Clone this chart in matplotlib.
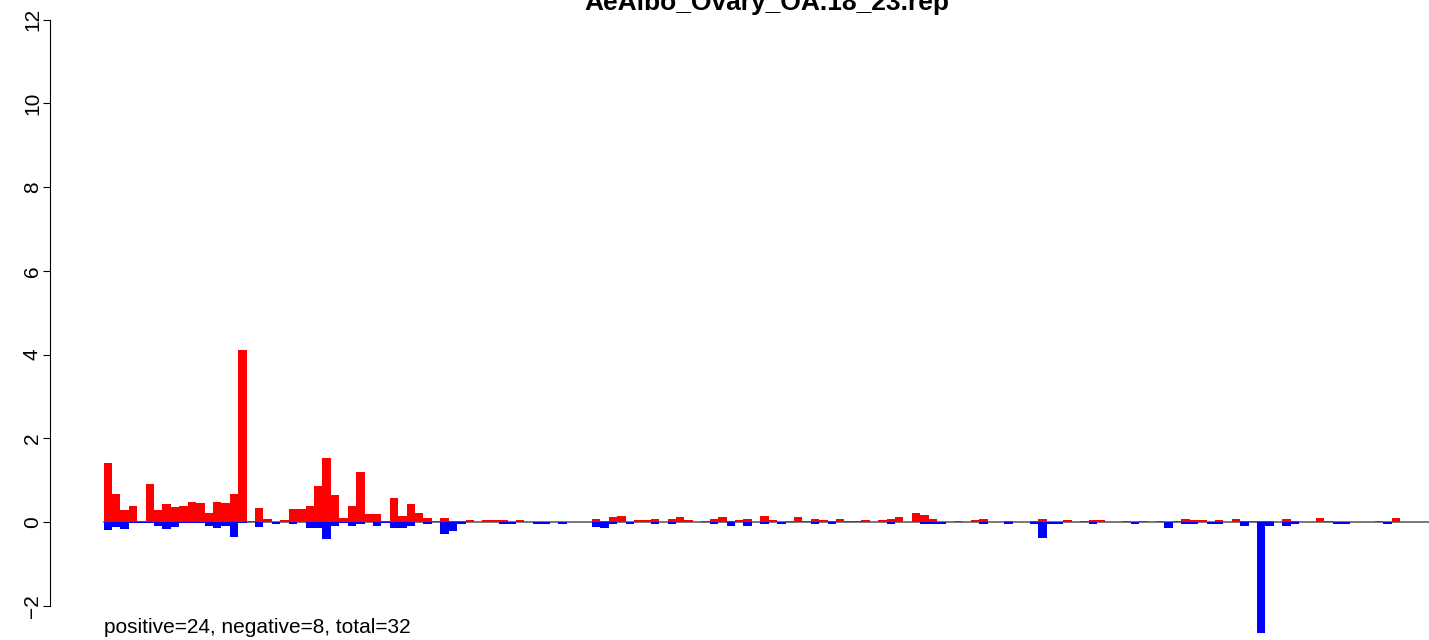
import numpy as np
import matplotlib
matplotlib.use("Agg")
import matplotlib.pyplot as plt

plt.rcParams['font.family'] = ['Liberation Sans', 'DejaVu Sans']

title = "AeAlbo_Ovary_OA.18_23.rep"
note = "positive=24, negative=8, total=32"

# positive strand signal (red), one value per bar
pos = [1.41, 0.67, 0.29, 0.38, 0.03, 0.91, 0.29, 0.43, 0.36, 0.38,
       0.48, 0.45, 0.21, 0.48, 0.45, 0.67, 4.12, 0.03, 0.33, 0.07,
       0.00, 0.05, 0.31, 0.31, 0.38, 0.86, 1.53, 0.64, 0.10, 0.38,
       1.19, 0.19, 0.19, 0.02, 0.57, 0.14, 0.43, 0.21, 0.10, 0.02,
       0.10, 0.02, 0.02, 0.05, 0.00, 0.05, 0.05, 0.05, 0.00, 0.05,
       0.00, 0.00, 0.00, 0.00, 0.00, 0.00, 0.00, 0.00, 0.07, 0.02,
       0.12, 0.14, 0.00, 0.05, 0.05, 0.07, 0.00, 0.07, 0.12, 0.05,
       0.00, 0.02, 0.07, 0.12, 0.02, 0.05, 0.07, 0.00, 0.14, 0.05,
       0.00, 0.02, 0.12, 0.02, 0.07, 0.05, 0.02, 0.07, 0.02, 0.02,
       0.05, 0.00, 0.05, 0.07, 0.12, 0.00, 0.21, 0.17, 0.07, 0.00,
       0.00, 0.02, 0.00, 0.05, 0.07, 0.00, 0.00, 0.02, 0.00, 0.00,
       0.02, 0.07, 0.00, 0.00, 0.05, 0.00, 0.02, 0.05, 0.05, 0.00,
       0.00, 0.02, 0.00, 0.02, 0.00, 0.02, 0.00, 0.02, 0.07, 0.05,
       0.05, 0.00, 0.05, 0.00, 0.07, 0.02, 0.02, 0.02, 0.02, 0.00,
       0.07, 0.02, 0.00, 0.00, 0.10, 0.02, 0.00, 0.00, 0.00, 0.00,
       0.00, 0.02, 0.00, 0.10, 0.00, 0.00, 0.00, 0.00]

# negative strand signal (blue)
neg = [-0.19, -0.11, -0.17, -0.03, -0.03, -0.03, -0.09, -0.17, -0.11, -0.03,
       -0.03, -0.03, -0.09, -0.14, -0.09, -0.35, -0.03, 0.00, -0.11, 0.00,
       -0.04, 0.00, -0.04, 0.00, -0.14, -0.14, -0.40, -0.09, -0.02, -0.09,
       -0.04, 0.00, -0.09, -0.03, -0.14, -0.14, -0.09, 0.00, -0.05, 0.00,
       -0.28, -0.21, -0.05, 0.00, 0.00, 0.00, 0.00, -0.05, -0.05, 0.00,
       0.00, -0.05, -0.05, 0.00, -0.05, 0.00, 0.00, 0.00, -0.11, -0.14,
       -0.05, 0.00, -0.04, 0.00, 0.00, -0.04, 0.00, -0.04, 0.00, 0.00,
       0.00, 0.00, -0.04, 0.00, -0.09, 0.00, -0.09, 0.00, -0.04, 0.00,
       -0.04, 0.00, 0.00, 0.00, -0.04, 0.00, -0.04, 0.00, 0.00, 0.00,
       0.00, 0.00, 0.00, -0.04, 0.00, 0.00, 0.00, -0.04, -0.04, -0.04,
       0.00, 0.00, 0.00, 0.00, -0.04, 0.00, 0.00, -0.04, 0.00, 0.00,
       -0.04, -0.38, -0.04, -0.04, 0.00, 0.00, 0.00, -0.04, 0.00, 0.00,
       0.00, 0.00, -0.04, 0.00, 0.00, 0.00, -0.14, 0.00, -0.04, -0.04,
       0.00, -0.04, -0.04, 0.00, 0.00, -0.09, 0.00, -2.65, -0.09, 0.00,
       -0.09, -0.04, 0.00, 0.00, 0.00, 0.00, -0.04, -0.04, 0.00, 0.00,
       0.00, 0.00, -0.04, 0.00, 0.00, 0.00, 0.00, 0.00]

yticks = [-2, 0, 2, 4, 6, 8, 10, 12]

n = len(pos)
x = np.arange(n)

W, H = 1429, 640
fig = plt.figure(figsize=(W / 100, H / 100), dpi=100)

# plot region runs past the right edge of the picture, like the cropped original
bw = 8.42
xlo, xhi = -0.04 * n, 1.04 * n
left_px = 103.5 - (0 - xlo) * bw
ax = fig.add_axes([left_px / W, 0, (xhi - xlo) * bw / W, 1])
ax.set_xlim(xlo, xhi)
ppu = 41.857
ax.set_ylim(-(H - 522) / ppu, 522 / ppu)

ax.plot([0, n], [0, 0], color='#555555', lw=1.1, zorder=1)
ax.bar(x, pos, width=1, align='edge', color='#ff0000', linewidth=0, zorder=2)
ax.bar(x, neg, width=1, align='edge', color='#0000ff', linewidth=0, zorder=3)

for s in ['top', 'right', 'bottom']:
    ax.spines[s].set_visible(False)
ax.spines['left'].set_bounds(-2, 12)
ax.spines['left'].set_linewidth(0.8)
ax.set_xticks([])
ax.set_yticks(yticks)
ax.set_yticklabels([str(t).replace('-', '\u2212') for t in yticks], rotation=90, va='center')
ax.tick_params(axis='y', length=5, width=0.8, pad=1, labelsize=15)

fig.text(767 / W, 1 - 10 / H, title, ha='center', va='baseline',
         fontsize=19, fontweight='bold')
ax.text(0, -2.53, note, ha='left', va='center', fontsize=15)

fig.savefig("out.png", dpi=100)
